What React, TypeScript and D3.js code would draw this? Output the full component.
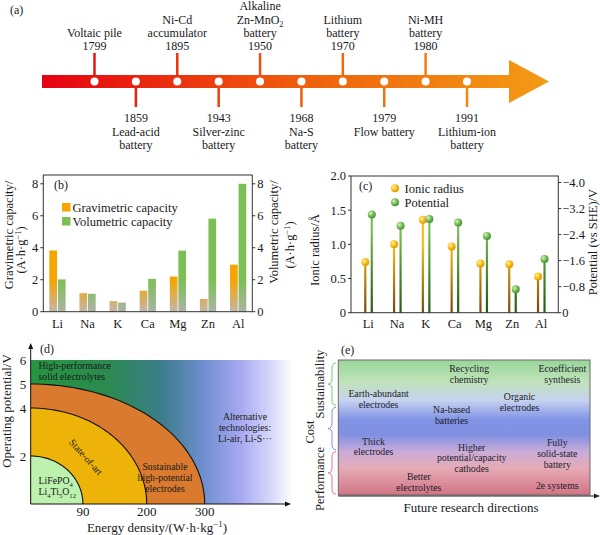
import React from 'react'
import * as d3 from 'd3'

const SERIF = '"Liberation Serif", "Times New Roman", serif'
const INK = '#1a1a1a'

// (a) timeline
const eventYears = [1799, 1859, 1895, 1943, 1950, 1968, 1970, 1979, 1980, 1991]
const eventNames = [
  ['Voltaic pile'],
  ['Lead-acid', 'battery'],
  ['Ni-Cd', 'accumulator'],
  ['Silver-zinc', 'battery'],
  ['Alkaline', 'Zn-MnO2', 'battery'],
  ['Na-S', 'battery'],
  ['Lithium', 'battery'],
  ['Flow battery'],
  ['Ni-MH', 'battery'],
  ['Lithium-ion', 'battery'],
]
const eventSides = ['up', 'down', 'up', 'down', 'up', 'down', 'up', 'down', 'up', 'down']

// (b) capacities
const metals = ['Li', 'Na', 'K', 'Ca', 'Mg', 'Zn', 'Al']
const gravimetric = [3.83, 1.16, 0.66, 1.31, 2.2, 0.8, 2.94]
const volumetric = [2.02, 1.12, 0.57, 2.05, 3.82, 5.82, 8.0]
const capacityTicks = [0, 2, 4, 6, 8]

// (c) ionic radius / potential
const ionicRadius = [0.74, 1.0, 1.36, 0.97, 0.72, 0.71, 0.53]
const potential = [-3.02, -2.67, -2.88, -2.77, -2.36, -0.72, -1.65]
const radiusTicks = [0, 0.5, 1.0, 1.5, 2.0]
const potentialTicks = [0, -0.8, -1.6, -2.4, -3.2, -4.0]

// (d) energy density vs potential
const zoneEnergy = [300, 200, 90]
const zonePotential = [5, 4, 2]
const zoneFills = ['#d97a2e', '#eeb308', '#bdf1ae']
const potentialAxisTicks = [6, 5, 4, 2]
const energyAxisTicks = [90, 200, 300]

// (e) research directions
const directionText = [
  { lines: ['Recycling', 'chemistry'], col: 0.52, row: 0.06 },
  { lines: ['Ecoefficient', 'synthesis'], col: 0.89, row: 0.06 },
  { lines: ['Earth-abundant', 'electrodes'], col: 0.16, row: 0.25 },
  { lines: ['Organic', 'electrodes'], col: 0.72, row: 0.27 },
  { lines: ['Na-based', 'batteries'], col: 0.45, row: 0.37 },
  { lines: ['Thick', 'electrodes'], col: 0.14, row: 0.6 },
  { lines: ['Higher', 'potential/capacity', 'cathodes'], col: 0.53, row: 0.645 },
  { lines: ['Fully', 'solid-state', 'battery'], col: 0.87, row: 0.61 },
  { lines: ['Better', 'electrolytes'], col: 0.32, row: 0.86 },
  { lines: ['2e systems'], col: 0.87, row: 0.93 },
]
const braceLabels = ['Sustainability', 'Cost', 'Performance']
const braceColors = ['#7cc67a', '#7f8fe0', '#e07b8c']

function chem(text: string, fs: number) {
  const parts = text.split(/(\d+)/).filter((p) => p !== '')
  let low = false
  return parts.map((p, i) => {
    const isNum = /^\d+$/.test(p)
    const dy = isNum && !low ? fs * 0.28 : !isNum && low ? -fs * 0.28 : 0
    low = isNum
    return (
      <tspan key={i} dy={dy} fontSize={isNum ? fs * 0.68 : fs}>
        {p}
      </tspan>
    )
  })
}

function unitText(prefix: string, fs: number) {
  return [
    <tspan key="a">{prefix}</tspan>,
    <tspan key="b" dy={-fs * 0.38} fontSize={fs * 0.68}>−1</tspan>,
    <tspan key="c" dy={fs * 0.38}>)</tspan>,
  ]
}

const Timeline = () => {
  const tx = d3.scalePoint<string>().domain(eventYears.map(String)).range([94.5, 467])
  const x0 = 42, xHead = 509, xTip = 549, yc = 81.5
  const col = d3.scaleLinear<string>().domain([x0, 300, xTip]).range(['#e60012', '#ef5d0c', '#f39c14'])
  const fs = 12
  const lh = 13.3
  return (
    <g>
      <defs>
        <linearGradient id="arrowGrad" gradientUnits="userSpaceOnUse" x1={x0} x2={xTip} y1={0} y2={0}>
          <stop offset="0" stopColor="#e60012" />
          <stop offset="0.5" stopColor="#ef5d0c" />
          <stop offset="1" stopColor="#f39c14" />
        </linearGradient>
      </defs>
      <text x={10} y={14} fontSize={12} fill={INK}>(a)</text>
      <path
        d={`M${x0},${yc - 6.5}H${xHead}V${yc - 21.5}L${xTip},${yc}L${xHead},${yc + 21.5}V${yc + 6.5}H${x0}Z`}
        fill="url(#arrowGrad)"
      />
      {eventYears.map((yr, i) => {
        const x = tx(String(yr))!
        const up = eventSides[i] === 'up'
        const lines = up ? [...eventNames[i], String(yr)] : [String(yr), ...eventNames[i]]
        return (
          <g key={yr}>
            <line x1={x} x2={x} y1={up ? 53 : yc} y2={up ? yc : 107} stroke={col(x)} strokeWidth={2.5} />
            <circle cx={x} cy={yc} r={4} fill="#fff" />
            {lines.map((t, k) => {
              const cy = up ? 46 - (lines.length - 1 - k) * lh : 118 + k * lh
              return (
                <text key={k} x={x} y={cy + 4.2} textAnchor="middle" fontSize={fs} fill={INK}>
                  {t.includes('MnO2') ? chem(t, fs) : t}
                </text>
              )
            })}
          </g>
        )
      })}
    </g>
  )
}

const CapacityChart = () => {
  const left = 43.3, right = 252.3, top = 175, bottom = 311.7
  const x = d3.scaleBand<string>().domain(metals).range([left, right]).paddingInner(0.46).paddingOuter(0.2)
  const x1 = d3.scaleBand<string>().domain(['g', 'v']).range([0, x.bandwidth()]).paddingInner(0.1)
  const y = d3.scaleLinear().domain([0, 8.55]).range([bottom, top])
  const fs = 12.5
  return (
    <g>
      <defs>
        <linearGradient id="gravGrad" gradientUnits="userSpaceOnUse" x1={0} x2={0} y1={y(2)} y2={y(0)}>
          <stop offset="0" stopColor="#f6a500" />
          <stop offset="1" stopColor="#c2b5a6" />
        </linearGradient>
        <linearGradient id="volGrad" gradientUnits="userSpaceOnUse" x1={0} x2={0} y1={y(2)} y2={y(0)}>
          <stop offset="0" stopColor="#7dbf55" />
          <stop offset="1" stopColor="#aab4a4" />
        </linearGradient>
      </defs>
      {metals.map((m, i) => (
        <g key={m}>
          <rect x={x(m)! + x1('g')!} y={y(gravimetric[i])} width={x1.bandwidth()} height={y(0) - y(gravimetric[i])} fill="url(#gravGrad)" />
          <rect x={x(m)! + x1('v')!} y={y(volumetric[i])} width={x1.bandwidth()} height={y(0) - y(volumetric[i])} fill="url(#volGrad)" />
          <text x={x(m)! + x.bandwidth() / 2} y={327.5} textAnchor="middle" fontSize={fs} fill={INK}>{m}</text>
        </g>
      ))}
      <rect x={left} y={top} width={right - left} height={bottom - top} fill="none" stroke="#333" strokeWidth={1} />
      {capacityTicks.map((t) => (
        <g key={t}>
          <line x1={left - 3} x2={left} y1={y(t)} y2={y(t)} stroke="#333" />
          <text x={left - 5} y={y(t)} dy="0.35em" textAnchor="end" fontSize={fs} fill={INK}>{t}</text>
          <line x1={right} x2={right + 3} y1={y(t)} y2={y(t)} stroke="#333" />
          <text x={right + 5} y={y(t)} dy="0.35em" fontSize={fs} fill={INK}>{t}</text>
        </g>
      ))}
      <text x={54} y={189} fontSize={12} fill={INK}>(b)</text>
      <rect x={62} y={203} width={8.5} height={8.5} fill="#f6a500" />
      <text x={72.5} y={211.5} fontSize={fs} fill={INK}>Gravimetric capacity</text>
      <rect x={62} y={217} width={8.5} height={8.5} fill="#7dbf55" />
      <text x={72.5} y={225.5} fontSize={fs} fill={INK}>Volumetric capacity</text>
      <text transform="translate(8.5,235) rotate(-90)" textAnchor="middle" dy="0.35em" fontSize={fs} fill={INK}>Gravimetric capacity/</text>
      <text transform="translate(21,250) rotate(-90)" textAnchor="middle" dy="0.35em" fontSize={fs} fill={INK}>{unitText('(A·h·g', fs)}</text>
      <text transform="translate(273.5,232) rotate(-90)" textAnchor="middle" dy="0.35em" fontSize={fs} fill={INK}>Volumetric capacity/</text>
      <text transform="translate(290,245) rotate(-90)" textAnchor="middle" dy="0.35em" fontSize={fs} fill={INK}>{unitText('(A·h·g', fs)}</text>
    </g>
  )
}

const RadiusChart = () => {
  const left = 351, right = 558.3, top = 176, bottom = 312.7
  const x = d3.scalePoint<string>().domain(metals).range([left, right]).padding(0.6)
  const y = d3.scaleLinear().domain([0, 2]).range([bottom, top])
  const y2 = d3.scaleLinear().domain([0, -4.2]).range([bottom, top])
  const fmt = (v: number) => (v === 0 ? '0' : d3.format('.1f')(v))
  const fs = 12.5
  return (
    <g>
      <defs>
        <linearGradient id="yStem" gradientUnits="userSpaceOnUse" x1={0} x2={0} y1={y(1)} y2={y(0)}>
          <stop offset="0" stopColor="#f7c214" />
          <stop offset="1" stopColor="#7a4608" />
        </linearGradient>
        <linearGradient id="gStem" gradientUnits="userSpaceOnUse" x1={0} x2={0} y1={y(1.2)} y2={y(0)}>
          <stop offset="0" stopColor="#79bf52" />
          <stop offset="1" stopColor="#1f5a14" />
        </linearGradient>
        <radialGradient id="yBall" cx="0.35" cy="0.35" r="0.7">
          <stop offset="0" stopColor="#fff3a8" />
          <stop offset="0.5" stopColor="#f8c21c" />
          <stop offset="1" stopColor="#d99400" />
        </radialGradient>
        <radialGradient id="gBall" cx="0.35" cy="0.35" r="0.7">
          <stop offset="0" stopColor="#d8f2c8" />
          <stop offset="0.5" stopColor="#78c057" />
          <stop offset="1" stopColor="#3f8a32" />
        </radialGradient>
      </defs>
      {metals.map((m, i) => {
        const cx = x(m)!
        return (
          <g key={m}>
            <line x1={cx - 3} x2={cx - 3} y1={y(0)} y2={y(ionicRadius[i])} stroke="url(#yStem)" strokeWidth={2.2} />
            <line x1={cx + 3.5} x2={cx + 3.5} y1={y2(0)} y2={y2(potential[i])} stroke="url(#gStem)" strokeWidth={2.2} />
            <circle cx={cx - 3} cy={y(ionicRadius[i])} r={4} fill="url(#yBall)" />
            <circle cx={cx + 3.5} cy={y2(potential[i])} r={4} fill="url(#gBall)" />
            <text x={cx} y={327.5} textAnchor="middle" fontSize={fs} fill={INK}>{m}</text>
          </g>
        )
      })}
      <rect x={left} y={top} width={right - left} height={bottom - top} fill="none" stroke="#333" strokeWidth={1} />
      {radiusTicks.map((t) => (
        <g key={t}>
          <line x1={left - 3} x2={left} y1={y(t)} y2={y(t)} stroke="#333" />
          <text x={left - 5} y={y(t)} dy="0.35em" textAnchor="end" fontSize={fs} fill={INK}>{fmt(t)}</text>
        </g>
      ))}
      {potentialTicks.map((t) => (
        <g key={t}>
          <line x1={right} x2={right + 3} y1={y2(t)} y2={y2(t)} stroke="#333" />
          <text x={right + 4} y={y2(t)} dy="0.35em" fontSize={fs} fill={INK}>{fmt(t)}</text>
        </g>
      ))}
      <text x={359} y={190} fontSize={12} fill={INK}>(c)</text>
      <circle cx={395} cy={188.3} r={4} fill="url(#yBall)" />
      <text x={404.5} y={192.5} fontSize={fs} fill={INK}>Ionic radius</text>
      <circle cx={395} cy={202.3} r={4} fill="url(#gBall)" />
      <text x={404.5} y={206.5} fontSize={fs} fill={INK}>Potential</text>
      <text transform="translate(315,250) rotate(-90)" textAnchor="middle" dy="0.35em" fontSize={fs} fill={INK}>Ionic radius/Å</text>
      <text transform="translate(593,242) rotate(-90)" textAnchor="middle" dy="0.35em" fontSize={fs} fill={INK}>Potential (vs SHE)/V</text>
    </g>
  )
}

const EnergyChart = () => {
  const x0 = 30.7, y0 = 504
  const x = d3.scaleLinear().domain([0, 300]).range([x0, x0 + 174])
  const y = d3.scaleLinear().domain([0, 6]).range([y0, 360])
  const arcPoints = (e: number, p: number) => {
    const rx = x(e) - x0, ry = y0 - y(p)
    return d3.range(0, 91, 2).map((deg) => {
      const a = (deg * Math.PI) / 180
      return [x0 + rx * Math.cos(a), y0 - ry * Math.sin(a)] as [number, number]
    })
  }
  const fs = 9.8
  const lh = 11
  return (
    <g>
      <defs>
        <linearGradient id="bgD" x1="0" x2="1" y1="0" y2="0">
          <stop offset="0" stopColor="#279540" />
          <stop offset="0.3" stopColor="#2b8a50" />
          <stop offset="0.5" stopColor="#3c7c8c" />
          <stop offset="0.66" stopColor="#6f8fd0" />
          <stop offset="0.8" stopColor="#a7a9f1" />
          <stop offset="0.92" stopColor="#d9d9fa" />
          <stop offset="1" stopColor="#ffffff" />
        </linearGradient>
      </defs>
      <rect x={x0} y={y(6)} width={293 - x0} height={y0 - y(6)} fill="url(#bgD)" />
      {zoneEnergy.map((e, i) => (
        <path key={e} d={d3.line()([[x0, y0], ...arcPoints(e, zonePotential[i])]) + 'Z'} fill={zoneFills[i]} />
      ))}
      {zoneEnergy.map((e, i) => (
        <path key={e} d={d3.line()(arcPoints(e, zonePotential[i]))!} fill="none" stroke="#111" strokeWidth={1.1} />
      ))}
      <line x1={x0} x2={x0} y1={y0} y2={347} stroke="#111" />
      <path d={`M${x0},343L${x0 - 2.5},349L${x0 + 2.5},349Z`} fill="#111" />
      <line x1={x0} x2={287} y1={y0} y2={y0} stroke="#111" />
      <path d={`M291,${y0}L285,${y0 - 2.5}L285,${y0 + 2.5}Z`} fill="#111" />
      {potentialAxisTicks.map((t) => (
        <text key={t} x={23} y={y(t)} dy="0.35em" textAnchor="middle" fontSize={13} fill={INK}>{t}</text>
      ))}
      {energyAxisTicks.map((t) => (
        <text key={t} x={x(t)} y={516} textAnchor="middle" fontSize={13} fill={INK}>{t}</text>
      ))}
      <text x={40} y={349} dy="0.35em" fontSize={12} fill={INK}>(d)</text>
      <text x={38.5} y={368.5} fontSize={fs} fill={INK}>High-performance</text>
      <text x={38.5} y={368.5 + lh} fontSize={fs} fill={INK}>solid electrolytes</text>
      <g fontSize={fs} fill={INK} textAnchor="middle">
        <text x={245} y={420}>Alternative</text>
        <text x={245} y={420 + lh}>technologies:</text>
        <text x={245} y={420 + 2 * lh}>Li-air, Li-S···</text>
        <text x={165} y={470}>Sustainable</text>
        <text x={165} y={470 + lh}>high-potential</text>
        <text x={165} y={470 + 2 * lh}>electrodes</text>
        <text transform="translate(86,457) rotate(48)" dy="0.35em">State-of-art</text>
      </g>
      <text x={38.5} y={484} fontSize={fs} fill={INK}>{chem('LiFePO4', fs)}</text>
      <text x={38.5} y={484 + lh} fontSize={fs} fill={INK}>{chem('Li4Ti5O12', fs)}</text>
      <text transform="translate(6,411) rotate(-90)" textAnchor="middle" dy="0.35em" fontSize={13} fill={INK}>Operating potential/V</text>
      <text x={157} y={532} textAnchor="middle" fontSize={13} fill={INK}>{unitText('Energy density/(W·h·kg', 13)}</text>
    </g>
  )
}

const DirectionsChart = () => {
  const left = 338.3, right = 590, top = 360, bottom = 495
  const cx = d3.scaleLinear().domain([0, 1]).range([left, right])
  const cy = d3.scaleLinear().domain([0, 1]).range([top, bottom])
  const bands = d3.scaleBand<string>().domain(braceLabels).range([top + 2, bottom])
  const brace = (xr: number, y1: number, y2: number, w: number) => {
    const m = (y1 + y2) / 2, xm = xr - w * 0.5, xl = xr - w
    return `M${xr},${y1}Q${xm},${y1} ${xm},${y1 + 5}L${xm},${m - 5}Q${xm},${m} ${xl},${m}Q${xm},${m} ${xm},${m + 5}L${xm},${y2 - 5}Q${xm},${y2} ${xr},${y2}`
  }
  const labelX = [320, 309.5, 320]
  const labelY = [384, 432, 479]
  const fs = 9.8
  const lh = 10.9
  return (
    <g>
      <defs>
        <linearGradient id="bgE" x1="0" x2="0" y1="0" y2="1">
          <stop offset="0" stopColor="#98d69a" />
          <stop offset="0.16" stopColor="#c0e3b9" />
          <stop offset="0.3" stopColor="#c6d2ef" />
          <stop offset="0.44" stopColor="#8294e6" />
          <stop offset="0.55" stopColor="#7f8fe2" />
          <stop offset="0.68" stopColor="#c9acd8" />
          <stop offset="0.8" stopColor="#e6abb6" />
          <stop offset="1" stopColor="#d27484" />
        </linearGradient>
      </defs>
      <rect x={left} y={top} width={right - left} height={bottom - top} fill="url(#bgE)" stroke="#6b6b6b" strokeWidth={1} />
      <line x1={left} x2={596} y1={bottom + 1} y2={bottom + 1} stroke="#222" />
      <path d={`M600,${bottom + 1}L594,${bottom - 1.5}L594,${bottom + 3.5}Z`} fill="#222" />
      {directionText.map((d, i) => (
        <g key={i} fontSize={fs} fill="#20202a" textAnchor="middle">
          {d.lines.map((t, k) => (
            <text key={k} x={cx(d.col)} y={cy(d.row) + k * lh + 3.5}>{t}</text>
          ))}
        </g>
      ))}
      {braceLabels.map((b, i) => {
        const y1 = bands(b)! + 1, y2 = bands(b)! + bands.bandwidth() - 1
        return (
          <g key={b}>
            <path d={brace(336, y1, y2, 8)} fill="none" stroke={braceColors[i]} strokeWidth={1} />
            <text transform={`translate(${labelX[i]},${labelY[i]}) rotate(-90)`} textAnchor="middle" dy="0.35em" fontSize={12.5} fill={INK}>{b}</text>
          </g>
        )
      })}
      <text x={341} y={350} dy="0.35em" fontSize={12} fill={INK}>(e)</text>
      <text x={471} y={512} textAnchor="middle" fontSize={13} fill={INK}>Future research directions</text>
    </g>
  )
}

export default function App() {
  return (
    <svg
      width={600}
      height={535}
      viewBox="0 0 600 535"
      style={{ position: 'absolute', left: 0, top: 0, background: '#fff', fontFamily: SERIF }}
    >
      <rect width={600} height={535} fill="#fff" />
      <Timeline />
      <CapacityChart />
      <RadiusChart />
      <EnergyChart />
      <DirectionsChart />
    </svg>
  )
}
